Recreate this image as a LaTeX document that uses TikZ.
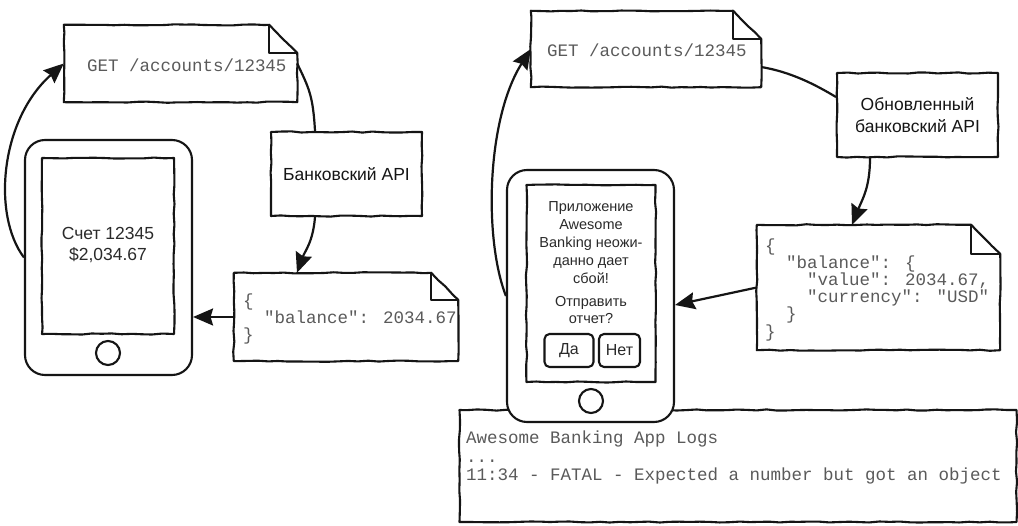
\documentclass[tikz,border=0pt]{standalone}
\usepackage{fontspec}
\setmainfont{Liberation Sans}
\newfontfamily\monofont{Liberation Mono}
\usetikzlibrary{arrows.meta,decorations.pathmorphing,calc}

\definecolor{ink}{HTML}{151515}
\definecolor{codegray}{HTML}{5A5A5A}
\definecolor{screenink}{HTML}{2A2A2A}

% indent a code line by #1 monospace characters
\newcommand{\codeindent}[1]{\hspace*{#1\dimexpr 0.6em\relax}}

% folded-corner note outline around an empty node
\newcommand{\dogear}[2]{%
  \draw[paperline] (#1.north west) -- ([xshift=-#2]#1.north east)
    -- ([yshift=-#2]#1.north east) -- (#1.south east) -- (#1.south west) -- cycle;
  \draw[inktrace] ([xshift=-#2]#1.north east) |- ([yshift=-#2]#1.north east);}

\begin{document}
\pgfmathsetseed{11}
\begin{tikzpicture}[x=1pt,y=-1pt,
  wobble/.style={decorate, decoration={random steps, segment length=10pt, amplitude=0.6pt}},
  inktrace/.style={draw=ink, line width=2.1pt, line join=round},
  paperline/.style={inktrace, wobble, fill=white},
  paperbox/.style={inktrace, wobble, fill=white, inner sep=0pt},
  notepaper/.style={inner sep=0pt},
  mono/.style={font=\monofont\fontsize{17.5}{17.2}\selectfont, text=codegray, align=left, inner sep=0pt},
  apitext/.style={font=\fontsize{17.5}{22}\selectfont, text=ink, align=center},
  phonebody/.style={inktrace, fill=white, rounded corners=20pt, inner sep=0pt},
  phonescreen/.style={inktrace, wobble, fill=white, inner sep=0pt},
  homekey/.style={inktrace, circle, minimum size=24pt, inner sep=0pt},
  screentxt/.style={font=\fontsize{17.5}{21}\selectfont, text=screenink, align=center, inner sep=0pt},
  crashtxt/.style={font=\fontsize{14.5}{18}\selectfont, text=screenink, align=center, inner sep=0pt},
  btnbox/.style={inktrace, rounded corners=5pt, font=\fontsize{16}{18}\selectfont, text=screenink, inner sep=0pt},
  reqarrow/.style={draw=ink, line width=2.2pt, -{Stealth[length=20pt,width=17pt,inset=2.5pt]}},
  plainlink/.style={draw=ink, line width=2.2pt},
]
\fill[white] (0,0) rectangle (1018,526);
\useasboundingbox (0,0) rectangle (1018,526);

% ---- log panel (drawn first, the phone sits on top of it)
\node[paperbox, minimum width=557pt, minimum height=112pt] (logs) at (738,466) {};
\node[mono, font=\monofont\fontsize{17.5}{18.5}\selectfont, anchor=north west] (logtxt) at (466,431)
  {Awesome Banking App Logs\\...\\11:34 - FATAL - Expected a number but got an object};

% ---- left phone
\node[phonebody, minimum width=167pt, minimum height=235pt] (lphone) at (108.5,257.5) {};
\node[phonescreen, minimum width=132pt, minimum height=176pt] (lscreen) at (108,246) {};
\node[homekey] (lhome) at (108,353) {};
\node[screentxt] (lbalance) at (108,245) {Счет 12345\\\$2,034.67};

% ---- left request note
\node[notepaper, minimum width=233pt, minimum height=77pt] (lget) at (180.5,63.5) {};
\dogear{lget}{28pt}
\node[mono, anchor=west] (lgettxt) at ([xshift=23pt,yshift=-1.5pt]lget.west) {GET /accounts/12345};

% ---- left API
\node[paperbox, apitext, minimum width=151pt, minimum height=84pt] (lapi) at (346.5,174) {Банковский API};

% ---- left response note
\node[notepaper, minimum width=224pt, minimum height=88pt] (ljson) at (346,317) {};
\dogear{ljson}{27pt}
\node[mono, anchor=west] (ljsontxt) at ([xshift=9pt,yshift=-2pt]ljson.west)
  {\{\\\codeindent{2}"balance": 2034.67\\\}};

% ---- right phone
\node[phonebody, minimum width=167pt, minimum height=252pt] (rphone) at (590.5,296) {};
\node[phonescreen, minimum width=129pt, minimum height=197pt] (rscreen) at (591,283.5) {};
\node[homekey] (rhome) at (591,401) {};
\node[crashtxt] (crashmsg) at (591,243) {Приложение\\Awesome\\Banking неожи-\\данно дает\\сбой!};
\node[crashtxt, font=\fontsize{14.5}{17}\selectfont] (askmsg) at (591,310.5) {Отправить\\отчет?};
\node[btnbox, minimum width=49pt, minimum height=33pt] (yesbtn) at (569,350.5) {Да};
\node[btnbox, minimum width=41pt, minimum height=33pt] (nobtn) at (619.5,350.5) {Нет};

% ---- right request note
\node[notepaper, minimum width=230pt, minimum height=76pt] (rget) at (646,49) {};
\dogear{rget}{28pt}
\node[mono, anchor=west] (rgettxt) at ([xshift=16pt,yshift=-1pt]rget.west) {GET /accounts/12345};

% ---- updated API
\node[paperbox, apitext, minimum width=161pt, minimum height=84pt] (uapi) at (917.5,115) {Обновленный\\банковский API};

% ---- right response note
\node[notepaper, minimum width=243pt, minimum height=125pt] (rjson) at (878.5,287.5) {};
\dogear{rjson}{29pt}
\node[mono, anchor=west] (rjsontxt) at ([xshift=8pt,yshift=-2pt]rjson.west)
  {\{\\\codeindent{2}"balance": \{\\\codeindent{4}"value": 2034.67,\\\codeindent{4}"currency": "USD"\\\codeindent{2}\}\\\}};

% ---- connectors, left flow
\draw[reqarrow] (lphone.west) .. controls (-8,215) and (0,120) .. (lget.west);
\draw[plainlink] (lget.east) .. controls +(12,25) and +(-2,-35) .. ([xshift=-31.5pt]lapi.north);
\draw[reqarrow] ([xshift=-31.5pt]lapi.south) .. controls +(-2,25) and +(8,-22) .. ([xshift=-49pt]ljson.north);
\draw[reqarrow] (ljson.west) -- (ljson.west -| lphone.east);

% ---- connectors, right flow
\draw[reqarrow] (rphone.west) .. controls (484,240) and (486,120) .. (rget.west);
\draw[plainlink] ([yshift=-18pt]rget.east) .. controls +(30,5) and +(-20,-12) .. ([yshift=18pt]uapi.west);
\draw[reqarrow] ([xshift=-47.5pt]uapi.south) .. controls +(0,30) and +(10,-25) .. ([xshift=-26.5pt]rjson.north);
\draw[reqarrow] (rjson.west) -- ([yshift=-9pt]rphone.east);
\end{tikzpicture}
\end{document}
